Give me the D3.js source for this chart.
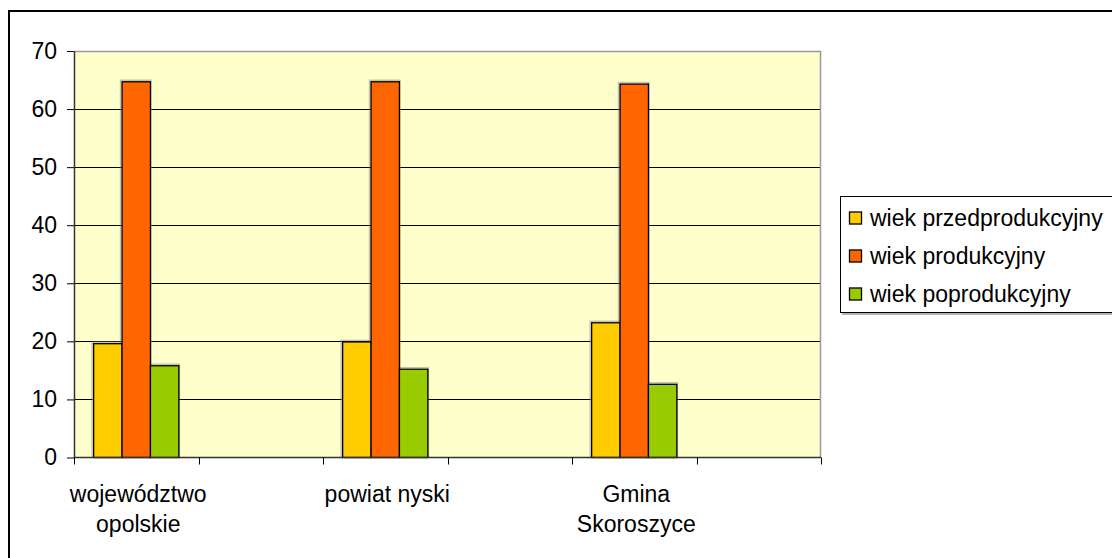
<!DOCTYPE html>
<html><head><meta charset="utf-8">
<script src="https://cdn.jsdelivr.net/npm/d3@7"></script>
<style>body{margin:0;background:#fff;}svg{display:block;font-family:"Liberation Sans",Arial,sans-serif;}</style>
</head><body>
<svg id="c" width="1112" height="558"></svg>
<script>
const categories = ["województwo\nopolskie", "", "powiat nyski", "", "Gmina\nSkoroszyce", ""];
const series = ["wiek przedprodukcyjny", "wiek produkcyjny", "wiek poprodukcyjny"];
const przed = [19.6, null, 19.9, null, 23.2, null];
const prod = [64.7, null, 64.7, null, 64.3, null];
const popr = [15.8, null, 15.2, null, 12.6, null];
const colors = ["#FFCC00", "#FF6600", "#99CC00"];
const yTicks = [0, 10, 20, 30, 40, 50, 60, 70];

const values = [przed, prod, popr];
const FS = 23;
const svg = d3.select("#c");
const L = 74, R = 821, T = 51, B = 457.5;

// outer frame
svg.append("rect").attr("x", 9).attr("y", 11).attr("width", 1200).attr("height", 700)
  .attr("fill", "none").attr("stroke", "#000").attr("stroke-width", 2);

const x = d3.scaleBand().domain(d3.range(categories.length)).range([L, R]).paddingInner(0).paddingOuter(0);
const y = d3.scaleLinear().domain([0, 70]).range([B, T]);

svg.append("rect").attr("x", L).attr("y", T).attr("width", R - L).attr("height", B - T).attr("fill", "#FFFFCC");

// gridlines
svg.append("g").selectAll("line").data(yTicks.filter(v => v > 0 && v < 70)).join("line")
  .attr("x1", L).attr("x2", R).attr("y1", d => Math.round(y(d)) + 0.5).attr("y2", d => Math.round(y(d)) + 0.5)
  .attr("stroke", "#000").attr("stroke-width", 1);

// plot border top/right gray
svg.append("path").attr("d", `M${L},${T + 0.5}H${R - 0.5}V${B}`).attr("fill", "none").attr("stroke", "#999").attr("stroke-width", 1.5);

// bars
const bw = 28.4;
const groupW = bw * 3;
const bars = [];
categories.forEach((c, i) => {
  values.forEach((arr, s) => {
    if (arr[i] == null) return;
    const cx = x(i) + x.bandwidth() / 2 - groupW / 2 + s * bw;
    bars.push({x: cx, v: arr[i], s});
  });
});
const bg = svg.append("g");
bg.selectAll("rect.sh").data(bars).join("rect").attr("class", "sh")
  .attr("x", d => d.x - 1.5).attr("y", d => y(d.v) - 1.5).attr("width", bw + 2).attr("height", d => B - y(d.v) + 1.5)
  .attr("fill", "none").attr("stroke", "#888").attr("stroke-opacity", 0.5).attr("stroke-width", 1.5);
bg.selectAll("rect.b").data(bars).join("rect").attr("class", "b")
  .attr("x", d => d.x).attr("y", d => y(d.v)).attr("width", bw).attr("height", d => B - y(d.v))
  .attr("fill", d => colors[d.s]).attr("stroke", "#000").attr("stroke-width", 1.3);

// y axis
const ya = svg.append("g").attr("transform", `translate(${L},0)`)
  .call(d3.axisLeft(y).tickValues(yTicks).tickSize(7).tickPadding(10).tickSizeOuter(0));
ya.attr("font-size", FS).attr("font-family", "Liberation Sans, Arial, sans-serif");
ya.select(".domain").attr("stroke", "#333").attr("stroke-width", 1.5);
ya.selectAll(".tick line").attr("stroke", "#000");
ya.selectAll(".tick text").attr("fill", "#000");

// x axis
const xa = svg.append("g").attr("transform", `translate(0,${B})`).attr("font-size", FS);
xa.append("line").attr("x1", L).attr("x2", R).attr("y1", 0).attr("y2", 0).attr("stroke", "#333").attr("stroke-width", 1.5);
const tickPos = d3.range(categories.length + 1).map(i => i < categories.length ? x(i) : R);
xa.selectAll("line.t").data(tickPos).join("line").attr("class", "t")
  .attr("x1", d => Math.round(d) + 0.5).attr("x2", d => Math.round(d) + 0.5).attr("y1", 0).attr("y2", 7).attr("stroke", "#000");
categories.forEach((c, i) => {
  if (!c) return;
  const cx = x(i) + x.bandwidth() / 2 + 2;
  const t = xa.append("text").attr("text-anchor", "middle").attr("fill", "#000")
    .attr("x", cx).attr("y", 44);
  c.split("\n").forEach((ln, k) => t.append("tspan").attr("x", cx).attr("dy", k ? 30 : 0).text(ln));
});

// legend
const lg = svg.append("g").attr("font-size", FS);
lg.append("rect").attr("x", 840.5).attr("y", 196.5).attr("width", 400).attr("height", 116)
  .attr("fill", "#fff").attr("stroke", "#000").attr("stroke-width", 1);
lg.append("path").attr("d", "M842,314H1112").attr("stroke", "#999").attr("stroke-width", 1.5);
series.forEach((s, i) => {
  const cy = 217.5 + i * 38;
  lg.append("rect").attr("x", 849.5).attr("y", cy - 5.5).attr("width", 12).attr("height", 12)
    .attr("fill", colors[i]).attr("stroke", "#000").attr("stroke-width", 1.3);
  lg.append("text").attr("x", 870).attr("y", cy + 8.5).attr("fill", "#000").text(s);
});
</script>
</body></html>
